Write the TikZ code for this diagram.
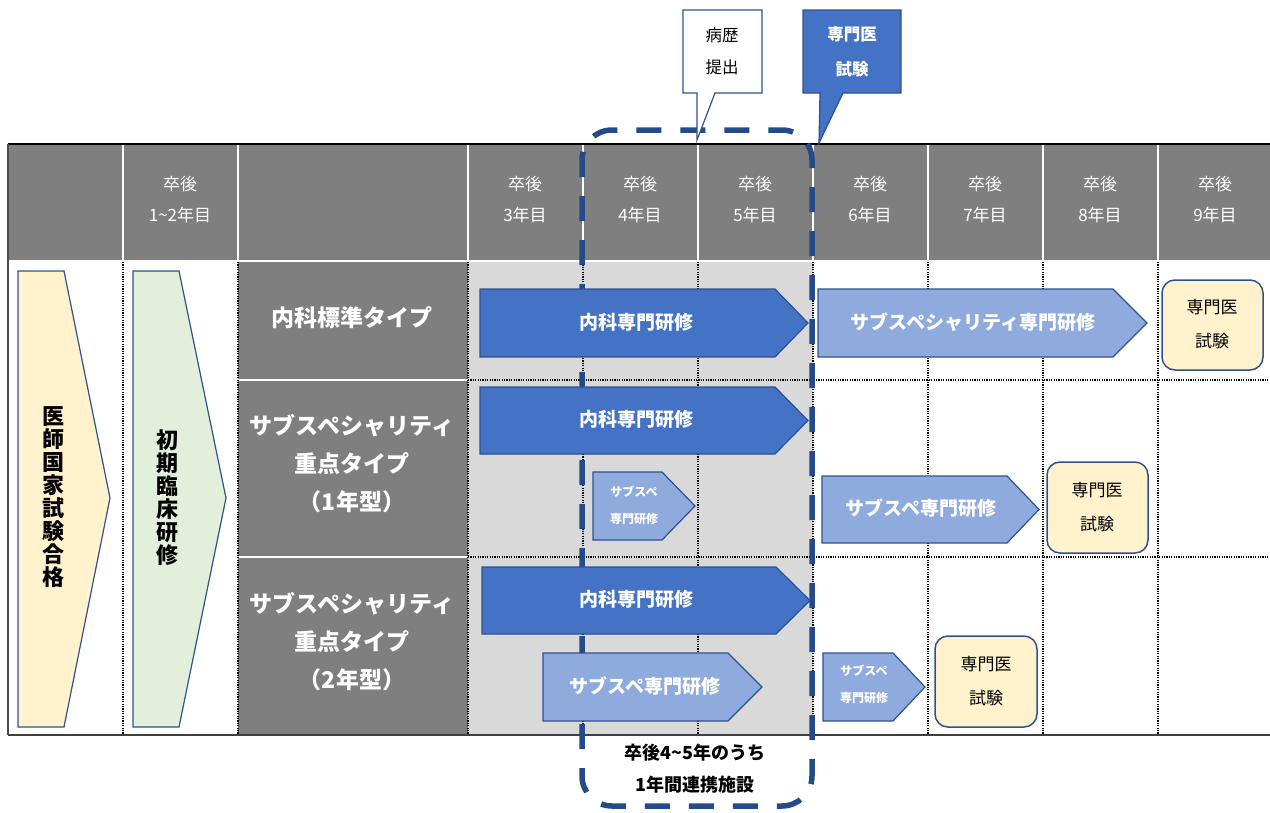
\documentclass[tikz,border=0pt]{standalone}
\usepackage{fontspec}
\setmainfont{Noto Sans CJK JP}
\definecolor{hdrgray}{HTML}{7F7F7F}
\definecolor{lgray}{HTML}{D9D9D9}
\definecolor{dblue}{HTML}{4472C4}
\definecolor{lblue}{HTML}{8FAADC}
\definecolor{bblue}{HTML}{2F528F}
\definecolor{ylw}{HTML}{FFF2CC}
\definecolor{grn}{HTML}{E2EFDA}
\definecolor{navy}{HTML}{244A88}
\newcommand\pentarrow[6]{\draw[#1] (#2,#3) -- (#4,#3) -- (#5,{(#3+#6)/2}) -- (#4,#6) -- (#2,#6) -- cycle;}
\begin{document}
\begin{tikzpicture}[x=1pt,y=-1pt,
  every node/.style={inner sep=0pt},
  hdr/.style={text=white, font=\fontsize{17}{31}\selectfont, align=center},
  rowh/.style={text=white, font=\bfseries\fontsize{23}{38}\selectfont, align=center},
  arrtxt/.style={text=white, font=\bfseries\fontsize{19}{22}\selectfont},
  smalltxt/.style={text=white, font=\bfseries\fontsize{12}{27}\selectfont, align=center},
  examtxt/.style={text=black, font=\fontsize{17}{34}\selectfont, align=center},
  vtxt/.style={text=black, font=\bfseries\fontsize{22}{23}\selectfont, align=center},
  darr/.style={fill=dblue, draw=bblue, line width=1.2pt},
  larr/.style={fill=lblue, draw=bblue, line width=1.2pt},
  exambox/.style={fill=ylw, draw=bblue, line width=1.5pt, rounded corners=13pt},
  dotln/.style={black, line width=1.2pt, dash pattern=on 1.2pt off 1.2pt},
  wln/.style={white, line width=1.2pt},
]
\useasboundingbox (0,0) rectangle (1270,812);
\fill[white] (0,0) rectangle (1270,812);
% table fills
\fill[hdrgray] (8,144) rectangle (1270,261);
\fill[hdrgray] (238,261) rectangle (468,735);
\fill[lgray] (468,261) rectangle (813,735);
% header separators
\foreach \xx in {123,238,468,583,698,813,928,1043,1158} {\draw[wln] (\xx,144) -- (\xx,261);}
\draw[wln] (8,261) -- (1270,261);
\draw[wln] (238,380) -- (468,380);
\draw[wln] (238,557) -- (468,557);
% body dotted grid
\foreach \xx in {123,238,468,583,698,813,928,1043,1158} {\draw[dotln] (\xx,262) -- (\xx,734);}
\draw[dotln] (468,380) -- (1270,380);
\draw[dotln] (468,557) -- (1270,557);
% outer border
\draw[black, line width=1.2pt] (8,144) -- (1270,144);
\draw[black!70, line width=1.2pt] (8,144) -- (8,735);
\draw[black!75, line width=2pt] (8,735) -- (1270,735);
% header texts
\node[hdr] (h12) at (180,200) {卒後\\1\textasciitilde 2年目};
\node[hdr] (h3) at (525,200) {卒後\\3年目};
\node[hdr] (h4) at (640,200) {卒後\\4年目};
\node[hdr] (h5) at (755,200) {卒後\\5年目};
\node[hdr] (h6) at (870,200) {卒後\\6年目};
\node[hdr] (h7) at (985,200) {卒後\\7年目};
\node[hdr] (h8) at (1100,200) {卒後\\8年目};
\node[hdr] (h9) at (1215,200) {卒後\\9年目};
% row headers
\node[rowh] (r1) at (352,318) {内科標準タイプ};
\node[rowh] (r2) at (352,464) {サブスペシャリティ\\重点タイプ\\（1年型）};
\node[rowh] (r3) at (352,642) {サブスペシャリティ\\重点タイプ\\（2年型）};
% left pentagons
\draw[fill=ylw, draw=bblue, line width=1.2pt] (18,271) -- (64,271) -- (110,498) -- (64,727) -- (18,727) -- cycle;
\node[vtxt] (kokushi) at (53,497) {医\\師\\国\\家\\試\\験\\合\\格};
\draw[fill=grn, draw=bblue, line width=1.2pt] (133,271) -- (179,271) -- (226,498) -- (179,727) -- (133,727) -- cycle;
\node[vtxt] (shoki) at (167,498) {初\\期\\臨\\床\\研\\修};
% dashed rounded frame
\draw[navy, line width=5.5pt, dash pattern=on 25pt off 19pt, dash phase=8pt, rounded corners=30pt] (582,130) rectangle (812,806);
% row 1
\pentarrow{darr}{480}{289}{775}{808}{357}
\node[arrtxt] (a1) at (636,322) {内科専門研修};
\pentarrow{larr}{818}{289}{1113}{1147}{357}
\node[arrtxt] (a2) at (973,322) {サブスペシャリティ専門研修};
\draw[exambox] (1162,280) rectangle (1263,370);
\node[examtxt] (e1) at (1212,324) {専門医\\試験};
% row 2
\pentarrow{darr}{480}{387}{775}{808}{454}
\node[arrtxt] (a3) at (636,419) {内科専門研修};
\pentarrow{larr}{593}{472}{662}{695}{540}
\node[smalltxt] (a4) at (634,505) {サブスペ\\専門研修};
\pentarrow{larr}{822}{476}{1007}{1039}{543}
\node[arrtxt] (a5) at (921,508) {サブスペ専門研修};
\draw[exambox] (1047,462) rectangle (1148,553);
\node[examtxt] (e2) at (1097,507) {専門医\\試験};
% row 3
\pentarrow{darr}{482}{567}{776}{810}{634}
\node[arrtxt] (a6) at (636,599) {内科専門研修};
\pentarrow{larr}{543}{653}{728}{762}{721}
\node[arrtxt] (a7) at (645,686) {サブスペ専門研修};
\pentarrow{larr}{823}{653}{893}{925}{721}
\node[smalltxt] (a8) at (864,684) {サブスペ\\専門研修};
\draw[exambox] (935,636) rectangle (1037,727);
\node[examtxt] (e3) at (986,681) {専門医\\試験};
% callouts
\draw[fill=white, draw=bblue, line width=1.2pt] (683,10) -- (762,10) -- (762,93) -- (715,93) -- (697,140) -- (697,93) -- (683,93) -- cycle;
\node[text=black, font=\fontsize{16.5}{32}\selectfont, align=center] (byoreki) at (722,51) {病歴\\提出};
\draw[fill=dblue, draw=bblue, line width=1.2pt] (803,10) -- (901,10) -- (901,93) -- (843,93) -- (819,143) -- (820,93) -- (803,93) -- cycle;
\node[text=white, font=\bfseries\fontsize{16.5}{35}\selectfont, align=center] (senmon) at (852,52) {専門医\\試験};
% bottom text
\node[text=black, font=\bfseries\fontsize{18}{32}\selectfont, align=center] (renkei) at (695,769) {卒後4\textasciitilde 5年のうち\\1年間連携施設};
\end{tikzpicture}
\end{document}
